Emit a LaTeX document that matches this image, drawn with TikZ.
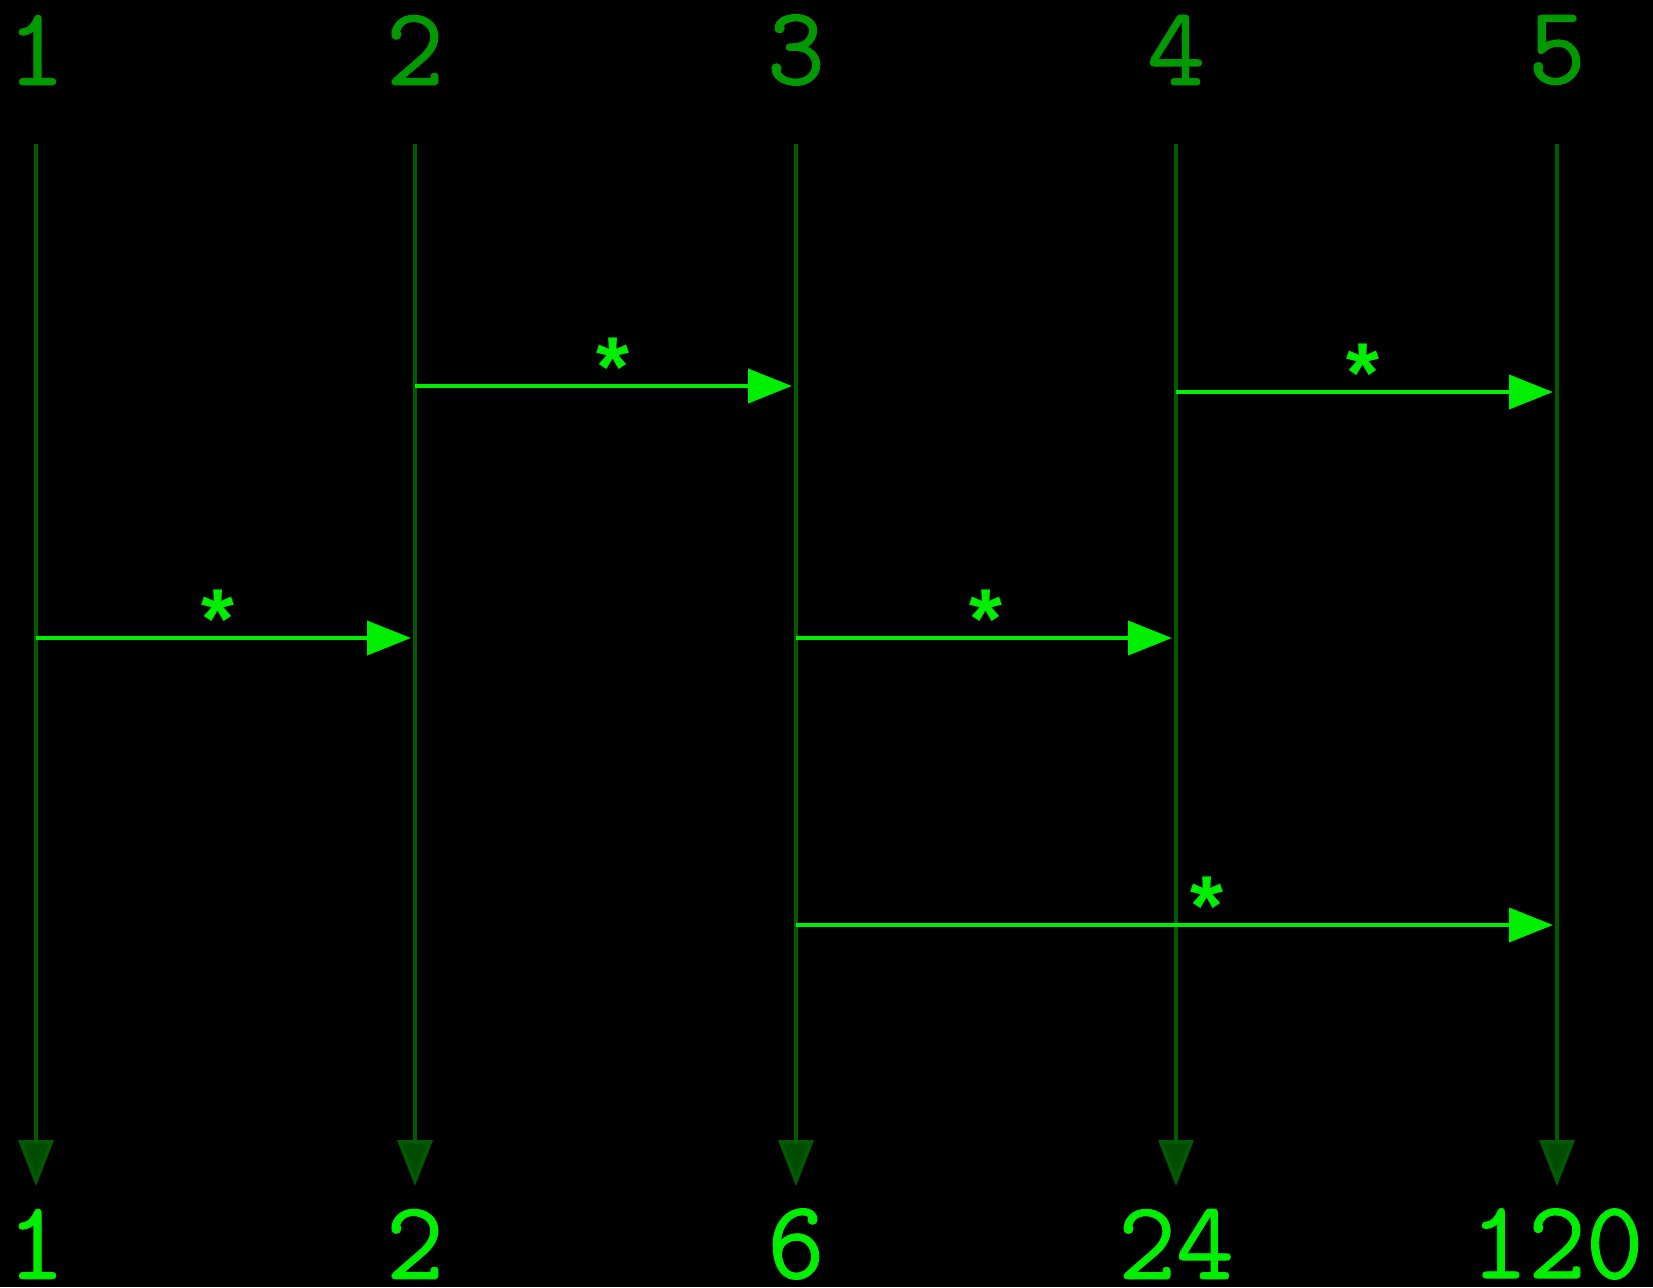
\documentclass[tikz,border=0pt]{standalone}
\usepackage{fontspec}
\newfontfamily\digitfont{Latin Modern Mono}[FakeBold=0.8]
\newfontfamily\starfont{Liberation Mono}
\usetikzlibrary{arrows.meta}
\definecolor{dimgreen}{HTML}{009A00}
\definecolor{wiregreen}{HTML}{005A00}
\definecolor{tipgreen}{HTML}{004C00}
\definecolor{brightgreen}{HTML}{00EE00}
\tikzset{
  toplabel/.style={text=dimgreen, inner sep=0pt, font=\fontsize{112}{112}\selectfont\digitfont},
  botlabel/.style={text=brightgreen, inner sep=0pt, font=\fontsize{112}{112}\selectfont\digitfont},
  wire/.style={draw=wiregreen, line width=3.5pt, -{Triangle[length=46pt, width=35pt, fill=tipgreen]}},
  mult/.style={draw=brightgreen, line width=4pt, shorten >=4pt, -{Triangle[length=44pt, width=34pt]}},
  star/.style={text=brightgreen, inner sep=0pt, anchor=base, yshift=-13pt, font=\fontsize{85}{85}\selectfont\starfont\bfseries}
}
\begin{document}
\begin{tikzpicture}[x=1pt, y=1pt]
  % black screen
  \fill[black] (0,0) rectangle (1653,-1287);
  \useasboundingbox (0,0) rectangle (1653,-1287);
  % columns: index on top, running product below
  \foreach \i/\x/\v in {1/36/1, 2/415/2, 3/796/6, 4/1176/24, 5/1557/120} {
    \node[toplabel] (t\i) at (\x,-50) {\i};
    \node[botlabel] (b\i) at (\x,-1244) {\v};
    \coordinate (s\i) at (\x,-144);
    \coordinate (e\i) at (\x,-1186);
    \draw[wire] (s\i) -- (e\i);
  }
  % rows of the multiplications
  \coordinate (r1) at (0,-386);
  \coordinate (r2) at (0,-392);
  \coordinate (r3) at (0,-638);
  \coordinate (r4) at (0,-925);
  \draw[mult] (s2 |- r1) -- node[star, pos=0.52] (m1) {*} (s3 |- r1);
  \draw[mult] (s4 |- r2) -- node[star, pos=0.49] (m2) {*} (s5 |- r2);
  \draw[mult] (s1 |- r3) -- node[star, pos=0.48] (m3) {*} (s2 |- r3);
  \draw[mult] (s3 |- r3) -- node[star, pos=0.5] (m4) {*} (s4 |- r3);
  \draw[mult] (s3 |- r4) -- node[star, pos=0.54] (m5) {*} (s5 |- r4);
\end{tikzpicture}
\end{document}
